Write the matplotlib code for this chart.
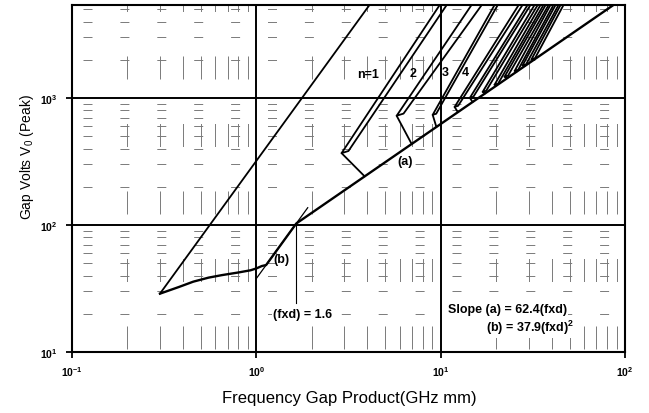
import numpy as np
import matplotlib
matplotlib.use("Agg")
import matplotlib.pyplot as plt
from matplotlib.ticker import FixedLocator, FuncFormatter, NullLocator

plt.rcParams['font.family'] = ['Liberation Sans', 'DejaVu Sans']
plt.rcParams['mathtext.fontset'] = 'custom'
plt.rcParams['mathtext.rm'] = 'Liberation Sans'
plt.rcParams['mathtext.bf'] = 'Liberation Sans:bold'
plt.rcParams['mathtext.it'] = 'Liberation Sans:italic'
plt.rcParams['lines.scale_dashes'] = False

# axis ranges
x_limits = (0.1, 100.0)
v_limits = (10.0, 5400.0)
x_decades = [0.1, 1.0, 10.0, 100.0]
v_decades = [10.0, 100.0, 1000.0]

# upper boundary of the n = 1 zone
upper_x = [0.3, 4.11]
upper_v = [28.8, 5400.0]

# low-(fxd) part of the lower boundary, before it joins curve (b)
knee_x = [0.30, 0.38, 0.455, 0.55, 0.65, 0.80, 0.93, 1.00, 1.07, 1.13]
knee_v = [28.8, 32.5, 35.8, 38.5, 40.3, 42.3, 44.0, 45.5, 47.5, 48.4]

# fitted boundaries quoted in the annotation
slope_a = 62.4            # (a): V0 = 62.4 (fxd)
slope_b = 37.9            # (b): V0 = 37.9 (fxd)^2
fxd_cross = slope_a / slope_b
a_end_x = v_limits[1] / slope_a
b_thin_x = [1.0, 1.9]
cross_line_bottom = 24.5

# gaps between resonance zones: bottom corner, point where the connector meets (a),
# and the top ends of the two boundary lines
corner_x = [2.90, 5.77, 9.05, 11.9, 14.4, 16.9, 19.6, 22.2, 25.2, 27.8, 31.1]
corner_v = [368, 725, 737, 851, 1003, 1118, 1271, 1470, 1635, 1804, 2018]
join_x = [3.87, 6.96, 9.48, 12.4, 14.9, 17.4, 20.2, 23.0, 26.0, 28.7, 32.1]
top_lower_x = [9.88, 14.7, 19.6, 26.5, 29.6, 32.3, 34.8, 37.1, 39.4, 42.0, 44.7]
top_upper_x = [10.78, 16.7, 20.4, 27.8, 30.7, 33.6, 36.1, 38.5, 40.9, 43.6, 46.4]

zone_labels = ['n=1', '2', '3', '4']
zone_label_x = [4.02, 7.05, 10.6, 13.6]
zone_label_v = [1545, 1574, 1590, 1590]

fig = plt.figure(figsize=(6.49, 4.14), dpi=100)
ax = fig.add_axes([72 / 649, 1 - 353 / 414, 553 / 649, 347 / 414])
ax.set_xscale('log')
ax.set_yscale('log')
ax.set_xlim(*x_limits)
ax.set_ylim(*v_limits)

PX = 0.72  # points per pixel at 100 dpi
grid_color = '#7a7a7a'

# minor grid: broken dotted lines
h_style = (25.9 * PX, (9 * PX, 27.9 * PX))
v_style = (64.5 * PX, (23 * PX, 44.5 * PX))
for d in v_decades:
    for m in range(2, 10):
        v = m * d
        if v < v_limits[1]:
            ax.plot(x_limits, [v, v], color=grid_color, lw=0.7,
                    linestyle=h_style, zorder=1)
for d in x_decades[:-1]:
    for m in range(2, 10):
        ax.plot([m * d, m * d], v_limits, color=grid_color, lw=0.7,
                linestyle=v_style, zorder=1)

# major grid
for x in x_decades[1:-1]:
    ax.axvline(x, color='black', lw=1.4, zorder=2)
for v in v_decades[1:]:
    ax.axhline(v, color='black', lw=1.4, zorder=2)

line_kw = dict(color='black', lw=1.3, solid_capstyle='round',
               solid_joinstyle='round', zorder=4)

# n = 1 upper boundary
ax.plot(upper_x, upper_v, **line_kw)

# lower boundary: knee, curve (b), then line (a)
lower_x = list(knee_x) + [fxd_cross, a_end_x]
lower_v = list(knee_v) + [slope_a * fxd_cross, slope_a * a_end_x]
ax.plot(lower_x, lower_v, color='black', lw=1.7, solid_joinstyle='round',
        zorder=5)

# thin extension of (b) and the crossing marker
bx = np.array(b_thin_x)
ax.plot(bx, slope_b * bx ** 2, color='black', lw=0.9, zorder=4)
ax.plot([fxd_cross, fxd_cross], [cross_line_bottom, slope_a * fxd_cross],
        color='black', lw=0.8, zorder=4)

# zone gaps: two boundary lines closed by a short cap, plus a connector to (a)
for i, (xa, va, xc, tl, tu) in enumerate(zip(corner_x, corner_v, join_x,
                                              top_lower_x, top_upper_x)):
    if i < 2:
        xb, vb = xa * 1.09, va * 1.04
    else:
        xb, vb = xa * 1.045, va * 1.02
    ax.plot([tl, xa, xb, tu], [v_limits[1], va, vb, v_limits[1]], **line_kw)
    ax.plot([xa, xc], [va, slope_a * xc], **line_kw)

txt_kw = dict(fontsize=9, fontweight='bold', zorder=6)
for lab, x, v in zip(zone_labels, zone_label_x, zone_label_v):
    ax.text(x, v, lab, ha='center', va='center', **txt_kw)
ax.text(6.38, 318, '(a)', ha='center', va='center', **txt_kw)
ax.text(1.37, 54, '(b)', ha='center', va='center', **txt_kw)

box = dict(facecolor='white', edgecolor='none', pad=1.0)
ax.text(1.79, 19.9, f'(fxd) = {fxd_cross:.1f}', ha='center', va='center',
        bbox=box, **txt_kw)
ax.text(10.9, 21.8, f'Slope (a) = {slope_a}(fxd)', ha='left', va='center',
        bbox=box, **txt_kw)
ax.text(17.7, 15.7, f'(b) = {slope_b}(fxd)' + r'$^{\mathbf{2}}$', ha='left',
        va='center', bbox=box, **txt_kw)

# axes frame and ticks
for s in ax.spines.values():
    s.set_linewidth(1.5)
    s.set_color('black')
    s.set_zorder(7)

def decade_label(val, pos):
    return r'$\mathbf{10^{%d}}$' % int(round(np.log10(val)))

ax.xaxis.set_major_locator(FixedLocator(x_decades))
ax.yaxis.set_major_locator(FixedLocator(v_decades))
ax.xaxis.set_minor_locator(NullLocator())
ax.yaxis.set_minor_locator(NullLocator())
ax.xaxis.set_major_formatter(FuncFormatter(decade_label))
ax.yaxis.set_major_formatter(FuncFormatter(decade_label))
ax.tick_params(axis='both', which='major', direction='out', length=4.3,
               width=1.3, labelsize=7.5, colors='black')
ax.tick_params(axis='x', pad=4.5)
ax.tick_params(axis='y', pad=6)

fig.text(349 / 649, 1 - 399 / 414, 'Frequency Gap Product(GHz mm)',
         fontsize=12, ha='center', va='center')
fig.text(27 / 649, 1 - 157 / 414, 'Gap Volts V$_0$ (Peak)', fontsize=10,
         rotation=90, ha='center', va='center')

fig.savefig('out.png', dpi=100)
